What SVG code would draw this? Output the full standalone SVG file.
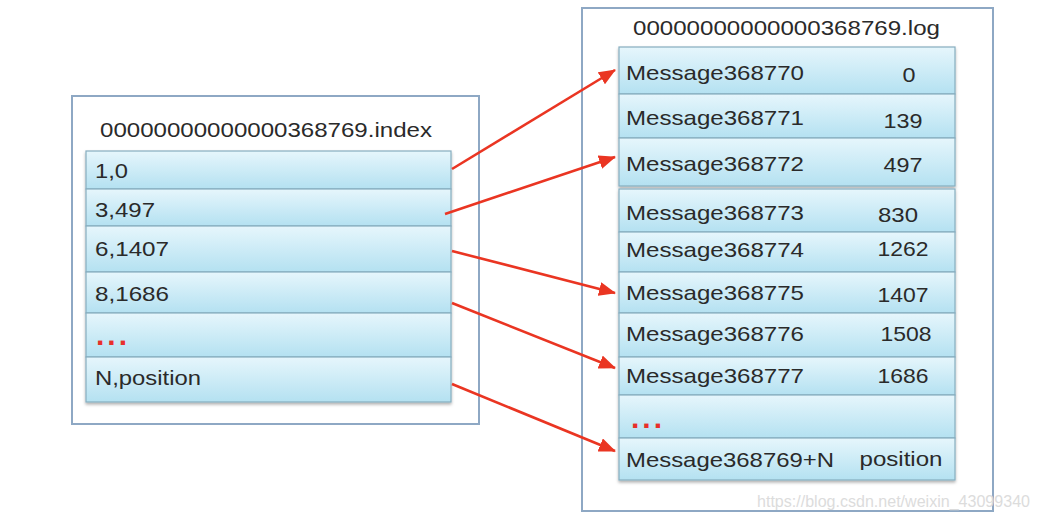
<svg xmlns="http://www.w3.org/2000/svg" width="1037" height="523" viewBox="0 0 1037 523">
<defs>
<linearGradient id="rowGrad" x1="0" y1="0" x2="0" y2="1">
<stop offset="0" stop-color="#e6f6fc"/>
<stop offset="1" stop-color="#b4e1f1"/>
</linearGradient>
<filter id="shadow" x="-5%" y="-5%" width="110%" height="115%">
<feDropShadow dx="0" dy="2" stdDeviation="1.5" flood-color="#000" flood-opacity="0.3"/>
</filter>
<marker id="arrow" markerUnits="userSpaceOnUse" markerWidth="18" markerHeight="14" refX="16" refY="7" orient="auto">
<path d="M0,0 L17,7 L0,14 Z" fill="#ea3522"/>
</marker>
<style>
.box{fill:#ffffff;stroke:#8ea8c4;stroke-width:2}
.row{fill:url(#rowGrad);stroke:#86adbf;stroke-width:1.2}
.t{font-family:"Liberation Sans",Arial,sans-serif;font-size:21px;fill:#2a2a2a}
.n{text-anchor:middle}
.dots{font-family:"Liberation Sans",Arial,sans-serif;font-size:30px;font-weight:bold;fill:#e8302a;letter-spacing:3px}
.wm{font-family:"Liberation Sans",Arial,sans-serif;font-size:16px;fill:#dcdcdc}
.conn{stroke:#ea3522;stroke-width:2.6;fill:none;marker-end:url(#arrow)}
</style>
</defs>
<rect width="1037" height="523" fill="#ffffff"/>

<g id="index-file">
<rect class="box" x="72" y="96" width="407" height="328"/>
<text class="t" x="100" y="137" textLength="332" lengthAdjust="spacingAndGlyphs">00000000000000368769.index</text>
<g filter="url(#shadow)">
<rect class="row" x="86" y="151" width="365" height="38"/>
<rect class="row" x="86" y="189" width="365" height="37"/>
<rect class="row" x="86" y="226" width="365" height="46"/>
<rect class="row" x="86" y="272" width="365" height="41"/>
<rect class="row" x="86" y="313" width="365" height="44"/>
<rect class="row" x="86" y="357" width="365" height="45"/>
</g>
<text class="t" x="95" y="178" textLength="33" lengthAdjust="spacingAndGlyphs">1,0</text>
<text class="t" x="95" y="217" textLength="60" lengthAdjust="spacingAndGlyphs">3,497</text>
<text class="t" x="95" y="256" textLength="74" lengthAdjust="spacingAndGlyphs">6,1407</text>
<text class="t" x="95" y="301" textLength="74" lengthAdjust="spacingAndGlyphs">8,1686</text>
<text class="dots" x="96" y="345">...</text>
<text class="t" x="95" y="385" textLength="106" lengthAdjust="spacingAndGlyphs">N,position</text>
</g>

<g id="log-file">
<rect class="box" x="582" y="8" width="411" height="503"/>
<text class="t" x="633" y="35" textLength="307" lengthAdjust="spacingAndGlyphs">00000000000000368769.log</text>
<g filter="url(#shadow)">
<rect class="row" x="619" y="47" width="336" height="47"/>
<rect class="row" x="619" y="94" width="336" height="44"/>
<rect class="row" x="619" y="138" width="336" height="48"/>
<rect class="row" x="619" y="189" width="336" height="43"/>
<rect class="row" x="619" y="232" width="336" height="40"/>
<rect class="row" x="619" y="272" width="336" height="41"/>
<rect class="row" x="619" y="313" width="336" height="44"/>
<rect class="row" x="619" y="357" width="336" height="38"/>
<rect class="row" x="619" y="395" width="336" height="43"/>
<rect class="row" x="619" y="438" width="336" height="42"/>
</g>
<text class="t" x="626" y="80" textLength="178" lengthAdjust="spacingAndGlyphs">Message368770</text>
<text class="t n" x="909" y="82" textLength="13" lengthAdjust="spacingAndGlyphs">0</text>
<text class="t" x="626" y="125" textLength="178" lengthAdjust="spacingAndGlyphs">Message368771</text>
<text class="t n" x="903" y="128" textLength="39" lengthAdjust="spacingAndGlyphs">139</text>
<text class="t" x="626" y="171" textLength="178" lengthAdjust="spacingAndGlyphs">Message368772</text>
<text class="t n" x="903" y="172" textLength="39" lengthAdjust="spacingAndGlyphs">497</text>
<text class="t" x="626" y="220" textLength="178" lengthAdjust="spacingAndGlyphs">Message368773</text>
<text class="t n" x="898" y="222" textLength="40" lengthAdjust="spacingAndGlyphs">830</text>
<text class="t" x="626" y="257" textLength="178" lengthAdjust="spacingAndGlyphs">Message368774</text>
<text class="t n" x="903" y="256" textLength="51" lengthAdjust="spacingAndGlyphs">1262</text>
<text class="t" x="626" y="300" textLength="178" lengthAdjust="spacingAndGlyphs">Message368775</text>
<text class="t n" x="903" y="302" textLength="51" lengthAdjust="spacingAndGlyphs">1407</text>
<text class="t" x="626" y="341" textLength="178" lengthAdjust="spacingAndGlyphs">Message368776</text>
<text class="t n" x="906" y="341" textLength="51" lengthAdjust="spacingAndGlyphs">1508</text>
<text class="t" x="626" y="383" textLength="178" lengthAdjust="spacingAndGlyphs">Message368777</text>
<text class="t n" x="903" y="383" textLength="51" lengthAdjust="spacingAndGlyphs">1686</text>
<text class="dots" x="631" y="428">...</text>
<text class="t" x="626" y="467" textLength="208" lengthAdjust="spacingAndGlyphs">Message368769+N</text>
<text class="t n" x="901" y="466" textLength="83" lengthAdjust="spacingAndGlyphs">position</text>
</g>

<g id="connectors">
<line class="conn" x1="452" y1="169" x2="615" y2="70"/>
<line class="conn" x1="445" y1="214" x2="615" y2="157"/>
<line class="conn" x1="452" y1="251" x2="615" y2="293"/>
<line class="conn" x1="452" y1="303" x2="615" y2="368"/>
<line class="conn" x1="452" y1="384" x2="615" y2="451"/>
</g>

<text class="wm" x="757" y="507" textLength="273" lengthAdjust="spacingAndGlyphs">https://blog.csdn.net/weixin_43099340</text>
</svg>
